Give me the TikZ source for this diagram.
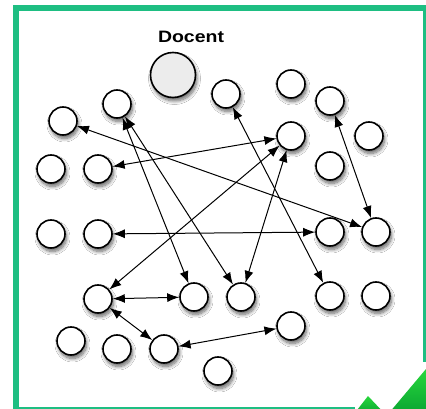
\documentclass[tikz,border=0pt]{standalone}
\usepackage{fontspec}
\newfontfamily\labelfont{Liberation Sans}
\usetikzlibrary{arrows.meta,shadows.blur}
\definecolor{framegreen}{RGB}{30,190,130}
\definecolor{checkhi}{RGB}{40,215,60}
\definecolor{checklo}{RGB}{10,165,50}
\definecolor{docfill}{RGB}{236,236,236}
\tikzset{
  dot/.style={circle, draw=black, line width=1.6pt, fill=white, minimum size=28pt, inner sep=0pt,
    blur shadow={shadow xshift=1.5pt, shadow yshift=-3.5pt, shadow blur radius=3.5pt, shadow opacity=60, shadow blur steps=8}},
  bigdot/.style={dot, fill=docfill, minimum size=45pt},
  link/.style={line width=1pt, {Latex[length=12pt,width=9pt]}-{Latex[length=12pt,width=9pt]}},
  lbl/.style={font=\labelfont\bfseries\fontsize{16.5}{19}\selectfont, inner sep=0pt, xscale=1.18}
}
\begin{document}
\begin{tikzpicture}[x=1pt,y=-1pt]
\useasboundingbox (0,0) rectangle (426,409);
\fill[white] (0,0) rectangle (426,409);
\draw[framegreen, line width=6pt] (355,410) -- (16,410) -- (16,8) -- (426,8) -- (426,362);

\node[lbl] (doclbl) at (191,37) {Docent};
\node[bigdot] (doc) at (173,75) {};

\node[dot] (A) at (63,121) {};
\node[dot] (B) at (117,104) {};
\node[dot] (C) at (51,169) {};
\node[dot] (D) at (98,169) {};
\node[dot] (E) at (226,94) {};
\node[dot] (F) at (291,84) {};
\node[dot] (G) at (330,101) {};
\node[dot] (H) at (291,136) {};
\node[dot] (I) at (369,136) {};
\node[dot] (J) at (330,166) {};
\node[dot] (K) at (51,234) {};
\node[dot] (L) at (98,234) {};
\node[dot] (S) at (330,232) {};
\node[dot] (T) at (376,232) {};
\node[dot] (M) at (98,299) {};
\node[dot] (N) at (194,297) {};
\node[dot] (U) at (241,297) {};
\node[dot] (V) at (330,296) {};
\node[dot] (W) at (376,296) {};
\node[dot] (X) at (291,326) {};
\node[dot] (O) at (71,341) {};
\node[dot] (P) at (117,349) {};
\node[dot] (Q) at (164,349) {};
\node[dot] (R) at (218,371) {};

\draw[link] (A) -- (T);
\draw[link] (D) -- (H);
\draw[link] (B) -- (N);
\draw[link] (B) -- (U);
\draw[link] (E) -- (V);
\draw[link] (M) -- (H);
\draw[link] (U) -- (H);
\draw[link] (G) -- (T);
\draw[link] (L) -- (S);
\draw[link] (M) -- (N);
\draw[link] (M) -- (Q);
\draw[link] (Q) -- (X);

\fill[white] (352,372) rectangle (426,409);
\draw[framegreen, line width=6pt] (340,410) -- (355,410);
\shade[top color=checkhi, bottom color=checklo] (354,414) -- (368,396) -- (385,414) -- cycle;
\shade[top color=checkhi, bottom color=checklo] (389,413) -- (426,369) -- (430,413) -- cycle;
\end{tikzpicture}
\end{document}
